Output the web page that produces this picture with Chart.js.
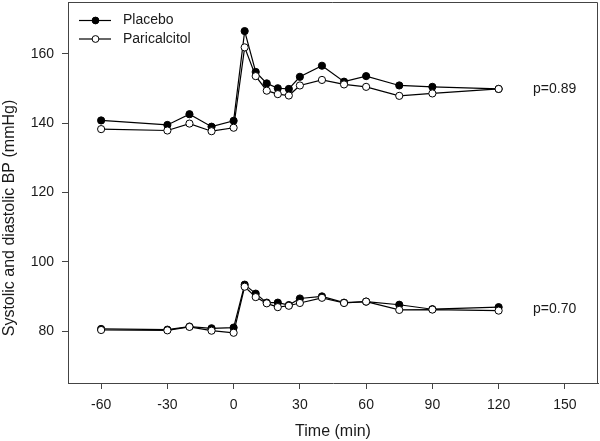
<!DOCTYPE html>
<html>
<head>
<meta charset="utf-8">
<script src="https://cdn.jsdelivr.net/npm/chart.js@4/dist/chart.umd.min.js"></script>
<style>
  html, body { margin: 0; padding: 0; background: #fff; overflow: hidden; }
  #wrap { width: 600px; height: 441px; }
  canvas { display: block; }
</style>
</head>
<body>
<div id="wrap"><canvas id="bpChart" width="600" height="441"></canvas></div>
<script>
// time points (min) and mean BP values
var times = [-60, -30, -20, -10, 0, 5, 10, 15, 20, 25, 30, 40, 50, 60, 75, 90, 120];

var placeboSys = [140.8, 139.5, 142.6, 139.0, 140.7, 166.6, 154.8, 151.5, 150.1, 149.9, 153.4, 156.6, 152.0, 153.6, 150.9, 150.5, 149.9];
var paricSys   = [138.3, 137.9, 139.9, 137.7, 138.7, 161.9, 153.6, 149.4, 148.4, 148.0, 150.9, 152.5, 151.2, 150.5, 147.9, 148.6, 149.9];
var placeboDia = [80.6, 80.4, 81.3, 80.8, 81.0, 93.4, 90.8, 88.2, 88.2, 87.5, 89.4, 90.0, 88.2, 88.5, 87.6, 86.3, 86.9];
var paricDia   = [80.3, 80.2, 81.2, 80.1, 79.5, 92.8, 89.8, 88.0, 86.9, 87.3, 88.1, 89.6, 88.1, 88.5, 86.1, 86.2, 85.9];

var xTicks = [-60, -30, 0, 30, 60, 90, 120, 150];
var yTicks = [80, 100, 120, 140, 160];
var seriesNames = ['Placebo', 'Paricalcitol'];
var pLabels = [{ text: 'p=0.89', y: 149.9 }, { text: 'p=0.70', y: 86.4 }];

var FONT = '"Liberation Sans", Arial, sans-serif';
var TXT = '#1a1a1a';
var AXIS = '#444';

function pts(ys) {
    return ys.map(function (v, i) { return { x: times[i], y: v }; });
}

function lineSet(label, ys, filled, order) {
    return {
        label: label,
        data: pts(ys),
        borderColor: '#000',
        borderWidth: 1.2,
        pointRadius: 3.6,
        pointBorderWidth: 1,
        pointBorderColor: '#000',
        pointBackgroundColor: filled ? '#000' : '#fff',
        tension: 0,
        order: order
    };
}

// box, legend, p values and axis titles
var extras = {
    id: 'extras',
    afterDraw: function (chart) {
        var ctx = chart.ctx, a = chart.chartArea;
        var ys = chart.scales.y;
        ctx.save();
        // top and right sides of the frame
        ctx.strokeStyle = AXIS;
        ctx.lineWidth = 1;
        ctx.beginPath();
        ctx.moveTo(a.left, a.top + 0.5);
        ctx.lineTo(a.right - 0.5, a.top + 0.5);
        ctx.lineTo(a.right - 0.5, a.bottom);
        ctx.stroke();

        ctx.font = '14px ' + FONT;
        ctx.textBaseline = 'middle';
        var rows = [20.5, 39];
        seriesNames.forEach(function (name, i) {
            var y = rows[i];
            ctx.strokeStyle = '#000';
            ctx.lineWidth = 1.2;
            ctx.beginPath();
            ctx.moveTo(79, y);
            ctx.lineTo(111, y);
            ctx.stroke();
            ctx.beginPath();
            ctx.arc(95.5, y, 3.4, 0, Math.PI * 2);
            ctx.fillStyle = i === 0 ? '#000' : '#fff';
            ctx.fill();
            ctx.lineWidth = 1;
            ctx.stroke();
            ctx.fillStyle = TXT;
            ctx.textAlign = 'left';
            ctx.fillText(name, 123, y);
        });

        // p values next to the end of each pair of curves
        pLabels.forEach(function (p) {
            ctx.fillText(p.text, 533, ys.getPixelForValue(p.y));
        });

        // axis titles
        ctx.font = '16px ' + FONT;
        ctx.textAlign = 'center';
        ctx.fillText('Time (min)', (a.left + a.right) / 2, 432);
        ctx.translate(10, 218);
        ctx.rotate(-Math.PI / 2);
        ctx.fillText('Systolic and diastolic BP (mmHg)', 0, 0);
        ctx.restore();
    }
};

new Chart(document.getElementById('bpChart'), {
    type: 'line',
    data: {
        datasets: [
            lineSet('Placebo', placeboSys, true, 1),
            lineSet('Placebo', placeboDia, true, 1),
            lineSet('Paricalcitol', paricSys, false, 0),
            lineSet('Paricalcitol', paricDia, false, 0)
        ]
    },
    options: {
        responsive: false,
        animation: false,
        layout: { autoPadding: false, padding: { top: 2, right: 2, left: 0, bottom: 0 } },
        plugins: { legend: { display: false }, tooltip: { enabled: false } },
        scales: {
            x: {
                type: 'linear',
                min: -75,
                max: 165,
                afterBuildTicks: function (s) { s.ticks = xTicks.map(function (v) { return { value: v }; }); },
                afterFit: function (s) { s.height = 58; s.paddingLeft = 0; s.paddingRight = 0; },
                grid: { drawOnChartArea: false, drawTicks: true, tickLength: 6, tickColor: AXIS },
                border: { color: AXIS, width: 1 },
                ticks: { color: TXT, font: { family: FONT, size: 14 }, padding: 8, maxRotation: 0 }
            },
            y: {
                min: 65,
                max: 175,
                afterBuildTicks: function (s) { s.ticks = yTicks.map(function (v) { return { value: v }; }); },
                afterFit: function (s) { s.width = 68; s.paddingTop = 0; s.paddingBottom = 0; },
                grid: { drawOnChartArea: false, drawTicks: true, tickLength: 6, tickColor: AXIS },
                border: { color: AXIS, width: 1 },
                ticks: { color: TXT, font: { family: FONT, size: 14 }, padding: 8 }
            }
        }
    },
    plugins: [extras]
});
</script>
</body>
</html>
